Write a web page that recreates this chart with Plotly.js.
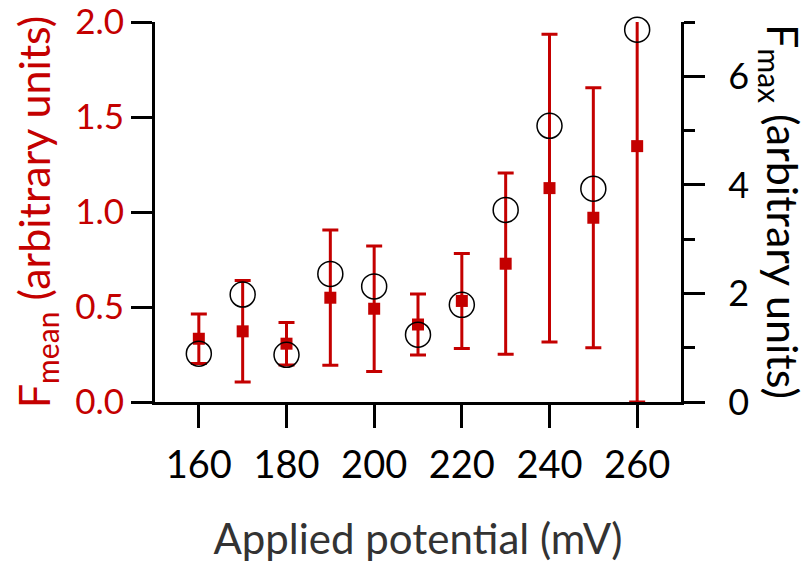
<!DOCTYPE html>
<html>
<head>
<meta charset="utf-8">
<script src="https://cdn.plot.ly/plotly-3.0.1.min.js"></script>
<style>html,body{margin:0;padding:0;background:#fff;}#chart{width:810px;height:563px;}</style>
</head>
<body>
<div id="chart"></div>
<script>
// Data
var potential = [160, 170, 180, 190, 200, 210, 220, 230, 240, 250, 260];
var fMean =     [0.333, 0.372, 0.307, 0.549, 0.491, 0.408, 0.532, 0.728, 1.126, 0.970, 1.347];
var fMeanErr =  [0.130, 0.267, 0.112, 0.356, 0.330, 0.160, 0.250, 0.477, 0.810, 0.685, 1.347];
var fMax =      [0.89, 1.98, 0.87, 2.36, 2.13, 1.24, 1.79, 3.54, 5.09, 3.93, 6.86];
var xTicks = [160, 180, 200, 220, 240, 260];
var yTicks = [0, 0.5, 1, 1.5, 2];
var yTickText = ['0.0', '0.5', '1.0', '1.5', '2.0'];
var y2Ticks = [0, 2, 4, 6];
var y2Minor = [1, 3, 5, 7];

var RED = '#c40000';
var FONT = 'Lato, "Open Sans", sans-serif';

var traces = [
  {
    x: potential, y: fMean, type: 'scatter', mode: 'markers', yaxis: 'y',
    marker: {symbol: 'square', size: 12, color: RED},
    error_y: {type: 'data', array: fMeanErr, visible: true, color: RED, thickness: 3, width: 8},
    cliponaxis: true
  },
  {
    x: potential, y: fMax, type: 'scatter', mode: 'markers', yaxis: 'y2',
    marker: {symbol: 'circle-open', size: 25, color: '#000', line: {width: 1.5, color: '#000'}},
    cliponaxis: false
  }
];

var layout = {
  width: 810, height: 563,
  margin: {l: 155, r: 129, t: 22, b: 161},
  paper_bgcolor: '#fff', plot_bgcolor: '#fff',
  showlegend: false,
  font: {family: FONT, color: '#000'},
  xaxis: {
    range: [150, 270], tickvals: xTicks, ticktext: xTicks.map(String),
    showgrid: false, zeroline: false, showline: true, linecolor: '#000', linewidth: 3,
    ticks: 'outside', ticklen: 23, tickwidth: 3, tickcolor: '#000',
    ticklabelstandoff: 4,
    tickfont: {size: 38, color: '#000', family: FONT},
    title: {text: 'Applied potential (mV)', font: {size: 42, color: '#333', family: FONT}, standoff: 42}
  },
  yaxis: {
    range: [0, 2.0005], tickvals: yTicks, ticktext: yTickText,
    showgrid: false, zeroline: false, showline: true, linecolor: '#000', linewidth: 3,
    ticks: 'outside', ticklen: 21, tickwidth: 3, tickcolor: '#000',
    ticklabeloverflow: 'allow',
    tickfont: {size: 35, color: RED, family: FONT},
    title: {text: 'F<sub>mean</sub> (arbitrary units)', font: {size: 43, color: RED, family: FONT}, standoff: 12}
  },
  yaxis2: {
    overlaying: 'y', side: 'right', anchor: 'x',
    range: [0, 7.002], tickvals: y2Ticks,
    showgrid: false, zeroline: false, showline: true, linecolor: '#000', linewidth: 3,
    ticks: 'outside', ticklen: 21, tickwidth: 3, tickcolor: '#000',
    ticklabelstandoff: 16, ticklabeloverflow: 'allow',
    tickfont: {size: 36, color: '#000', family: FONT},
    minor: {tickvals: y2Minor, ticks: 'outside', ticklen: 11, tickwidth: 3, tickcolor: '#000', showgrid: false}
  },
  annotations: [{
    text: 'F<sub>max</sub> (arbitrary units)', textangle: 90,
    xref: 'paper', yref: 'paper', x: 1.19, y: 0.5, xanchor: 'center', yanchor: 'middle',
    showarrow: false, font: {size: 43, color: '#000', family: FONT}
  }]
};

Plotly.newPlot('chart', traces, layout, {displayModeBar: false, staticPlot: true});
</script>
</body>
</html>
